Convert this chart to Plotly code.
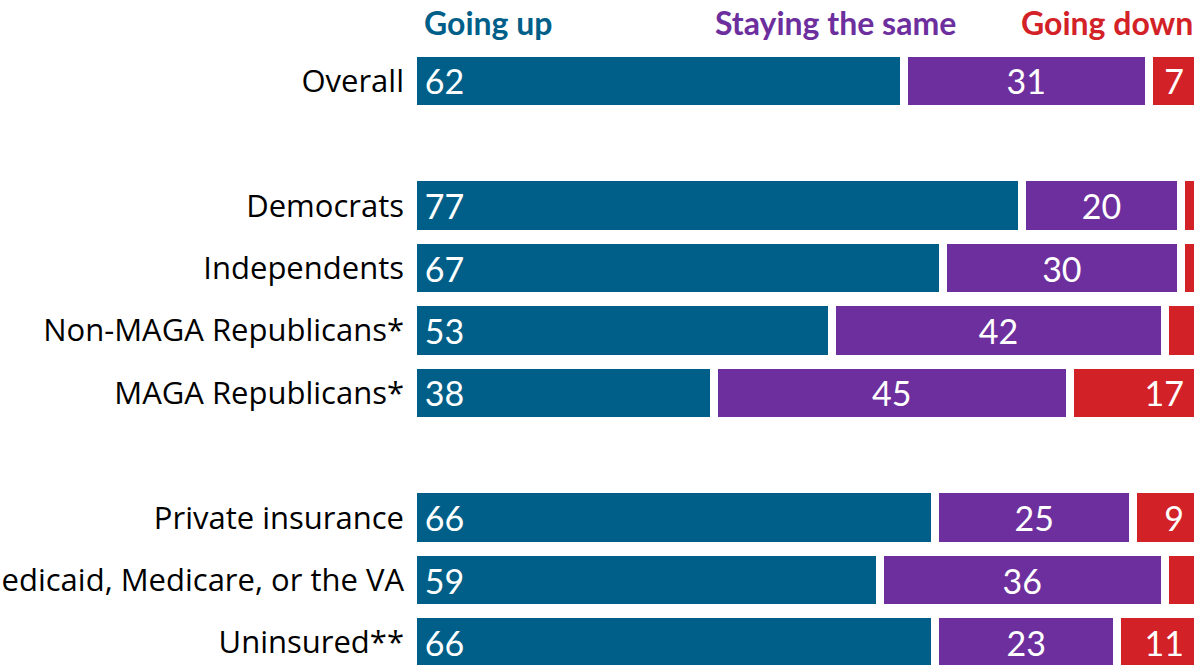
import plotly.graph_objects as go

# ---- data ----
categories = ["Overall", "Democrats", "Independents", "Non-MAGA Republicans*",
              "MAGA Republicans*", "Private insurance",
              "Medicaid, Medicare, or the VA", "Uninsured**"]
row_pos = [0, 2, 3, 4, 5, 7, 8, 9]
going_up = [62, 77, 67, 53, 38, 66, 59, 66]
staying_same = [31, 20, 30, 42, 45, 25, 36, 23]
going_down = [7, 3, 3, 5, 17, 9, 5, 11]
series_names = ["Going up", "Staying the same", "Going down"]

# ---- style ----
colors = ["#005F89", "#6E2F9E", "#D32128"]
FONT = "Lato"
LABEL_FONT = "Open Sans"
BAR_W = 0.905
NB = "\u00a0"

def labels(vals, anchor, min_show=7):
    out = []
    for v in vals:
        if v < min_show:
            out.append("")
        elif anchor == "start":
            out.append(NB + str(v))
        elif anchor == "end":
            out.append(str(v) + NB * 2)
        else:
            out.append(str(v))
    return out

fig = go.Figure()
series = [going_up, staying_same, going_down]
anchors = ["start", "middle", "end"]
for name, vals, col, anc in zip(series_names, series, colors, anchors):
    fig.add_trace(go.Bar(
        y=row_pos, x=vals, orientation="h", name=name,
        marker=dict(color=col, line=dict(color="white", width=8)),
        width=BAR_W,
        text=labels(vals, anc), textposition="inside", insidetextanchor=anc,
        textfont=dict(family=FONT, size=34, color="white"),
        hoverinfo="skip",
    ))

# header annotations (positioned in data coords)
header_x = [1.17, 53.4, 76.6]
header_anchor = ["left", "center", "left"]
for name, col, hx, ha in zip(series_names, colors, header_x, header_anchor):
    fig.add_annotation(x=hx, y=-0.93, xref="x", yref="y", text=name,
                       showarrow=False, xanchor=ha, yanchor="middle",
                       font=dict(family=FONT, size=32, color=col, weight=700))

fig.update_layout(
    barmode="stack", width=1194, height=665,
    margin=dict(l=413, r=0, t=0, b=0),
    paper_bgcolor="white", plot_bgcolor="white",
    showlegend=False,
    xaxis=dict(range=[0, 98.7], visible=False, fixedrange=True),
    yaxis=dict(range=[9.361, -1.2965], tickvals=row_pos, ticktext=categories,
               showgrid=False, zeroline=False, showline=False, ticks="",
               ticklabelstandoff=8, automargin=False, fixedrange=True,
               tickfont=dict(family=LABEL_FONT, size=31, color="#000000")),
)
fig.write_html("out.html", config={"displayModeBar": False},
               post_script="document.body.style.margin='0px';document.body.style.overflow='hidden';")
